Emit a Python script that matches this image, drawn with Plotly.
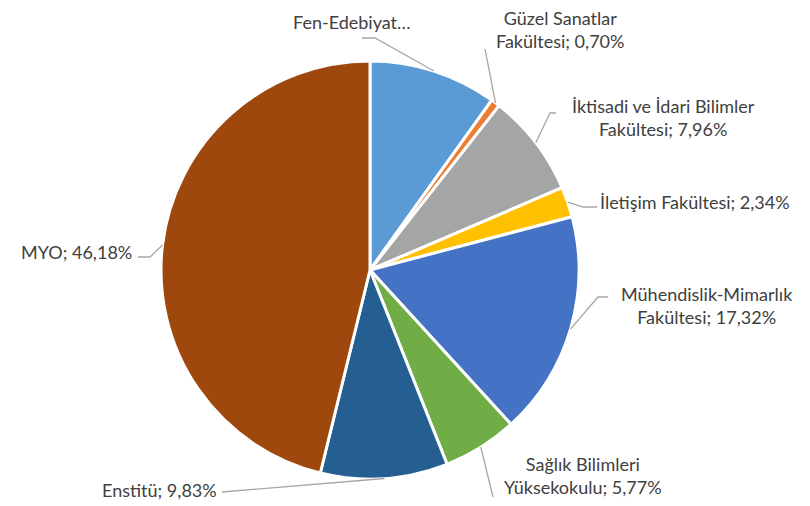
import math
import plotly.graph_objects as go

labels = ["Fen-Edebiyat Fakültesi", "Güzel Sanatlar Fakültesi", "İktisadi ve İdari Bilimler Fakültesi",
          "İletişim Fakültesi", "Mühendislik-Mimarlık Fakültesi", "Sağlık Bilimleri Yüksekokulu",
          "Enstitü", "MYO"]
values = [9.90, 0.70, 7.96, 2.34, 17.32, 5.77, 9.83, 46.18]
label_texts = ["Fen-Edebiyat…", "Güzel Sanatlar<br>Fakültesi; 0,70%", "İktisadi ve İdari Bilimler<br>Fakültesi; 7,96%",
               "İletişim Fakültesi; 2,34%", "Mühendislik-Mimarlık<br>Fakültesi; 17,32%",
               "Sağlık Bilimleri<br>Yüksekokulu; 5,77%", "Enstitü; 9,83%", "MYO; 46,18%"]
colors = ["#5B9BD5", "#ED7D31", "#A5A5A5", "#FFC000", "#4472C4", "#70AD47", "#255E91", "#9E480E"]

OFF = 8  # page body margin
W, H = 810 - OFF, 506 - OFF
CX, CY, R = 370, 270, 209

# label layout: (text x, text y, xanchor, elbow points in px)
label_layout = [
    (352, 22, "center", [(375, 38), (362, 38)]),
    (560, 30, "center", [(485, 49)]),
    (663, 117, "center", [(550, 113), (556, 113)]),
    (598, 202, "left", [(583, 207), (597, 207)]),
    (707, 305, "center", [(598, 297), (608, 297)]),
    (583, 475, "center", [(493, 497)]),
    (219, 490, "right", [(222, 492)]),
    (134, 252, "right", [(150, 257), (138, 257)]),
]

def px(x):
    return (x - OFF) / W

def py(y):
    return 1 - (y - OFF) / H

fig = go.Figure(go.Pie(
    labels=labels, values=values, sort=False, direction="clockwise", rotation=0,
    marker=dict(colors=colors, line=dict(color="white", width=3)),
    textinfo="none", hoverinfo="label+percent", showlegend=False,
    domain=dict(x=[px(CX - R), px(CX + R)], y=[py(CY + R), py(CY - R)]),
))

total = sum(values)
cum = 0.0
annotations = []
shapes = []
for v, txt, (tx, ty, xa, pts) in zip(values, label_texts, label_layout):
    mid = (cum + v / 2) / total * 2 * math.pi
    cum += v
    ax = CX + R * math.sin(mid)
    ay = CY - R * math.cos(mid)
    path_pts = [(ax, ay)] + pts
    path = "M " + " L ".join(f"{px(x)},{py(y)}" for x, y in path_pts)
    shapes.append(dict(type="path", path=path, xref="paper", yref="paper",
                       line=dict(color="#A6A6A6", width=1.3)))
    annotations.append(dict(text=txt, x=px(tx), y=py(ty), xref="paper", yref="paper",
                            xanchor=xa, yanchor="middle", showarrow=False, align="center",
                            font=dict(family="Lato, Carlito, Calibri, sans-serif", size=18, color="#404040")))

fig.update_layout(
    width=W, height=H, margin=dict(l=0, r=0, t=0, b=0),
    paper_bgcolor="white", plot_bgcolor="white",
    annotations=annotations, shapes=shapes,
)
fig.write_html("out.html")
